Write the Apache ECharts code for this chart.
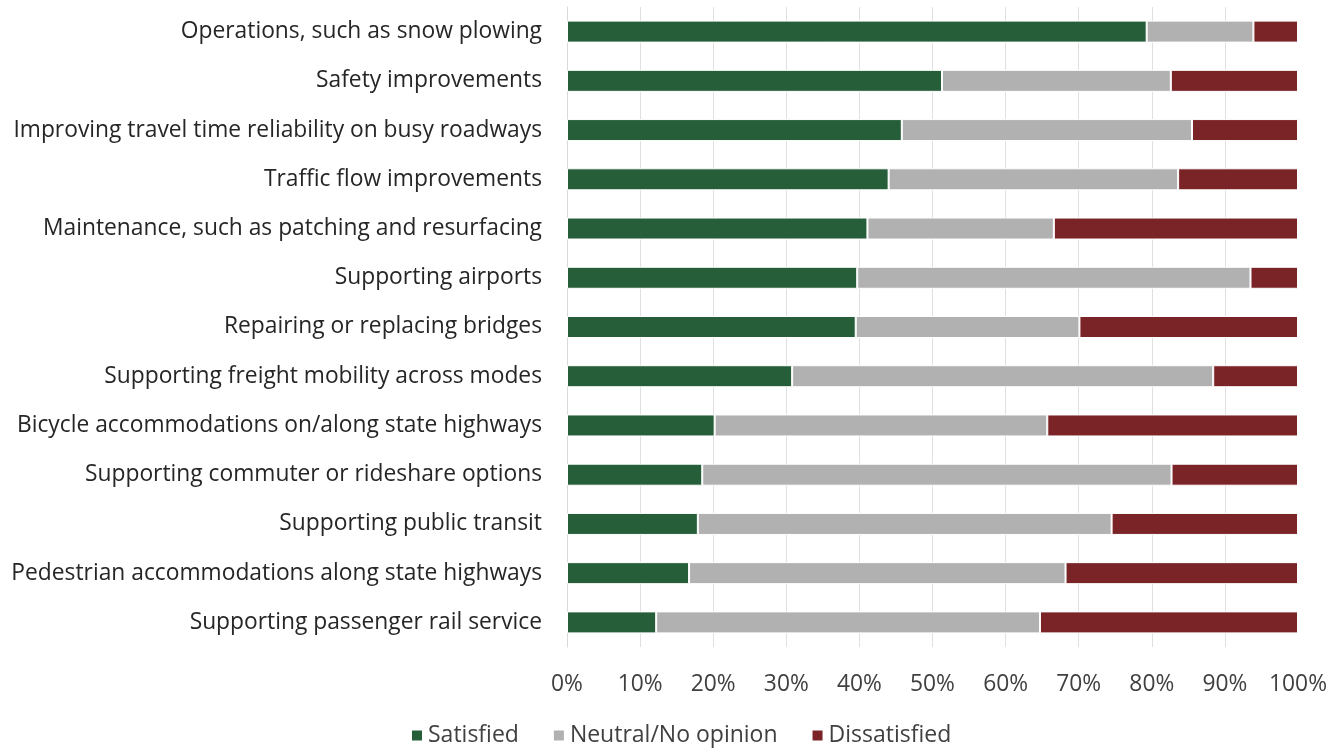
<!DOCTYPE html>
<html><head><meta charset="utf-8">
<script src="https://cdn.jsdelivr.net/npm/echarts@6/dist/echarts.min.js"></script>
<style>html,body{margin:0;padding:0;background:#fff}#c{width:1330px;height:750px}</style>
</head><body><div id="c"></div>
<script>
const categories = [
  "Operations, such as snow plowing",
  "Safety improvements",
  "Improving travel time reliability on busy roadways",
  "Traffic flow improvements",
  "Maintenance, such as patching and resurfacing",
  "Supporting airports",
  "Repairing or replacing bridges",
  "Supporting freight mobility across modes",
  "Bicycle accommodations on/along state highways",
  "Supporting commuter or rideshare options",
  "Supporting public transit",
  "Pedestrian accommodations along state highways",
  "Supporting passenger rail service"
];
const satisfied = [79.3, 51.3, 45.8, 44.0, 41.1, 39.7, 39.5, 30.8, 20.2, 18.5, 17.9, 16.7, 12.2];
const neutral   = [14.6, 31.3, 39.7, 39.6, 25.5, 53.8, 30.6, 57.6, 45.5, 64.2, 56.6, 51.5, 52.5];
const dissatisfied = [6.1, 17.4, 14.5, 16.4, 33.4, 6.5, 29.9, 11.6, 34.3, 17.3, 25.5, 31.8, 35.3];
const xTicks = ["0%","10%","20%","30%","40%","50%","60%","70%","80%","90%","100%"];

const font = "'Open Sans', 'Noto Sans', sans-serif";
const chart = echarts.init(document.getElementById('c'));
const mk = (name, data, color) => ({
  name, type: 'bar', stack: 'total', data, barWidth: 22,
  itemStyle: { color, borderColor: '#ffffff', borderWidth: 1 },
  emphasis: { disabled: true }
});
chart.setOption({
  animation: false,
  textStyle: { fontFamily: font },
  grid: { left: 567, right: 32, top: 7, bottom: 103, containLabel: false },
  legend: {
    left: 405, top: 719, itemWidth: 12, itemHeight: 12, itemGap: 33,
    icon: 'rect',
    textStyle: { fontFamily: font, fontSize: 23, color: '#404040' },
    data: ['Satisfied', 'Neutral/No opinion', 'Dissatisfied']
  },
  xAxis: {
    type: 'value', min: 0, max: 100, interval: 10,
    axisLabel: { formatter: v => xTicks[Math.round(v / 10)], fontSize: 22.8, color: '#404040', margin: 26, fontFamily: font },
    splitLine: { show: true, showMaxLine: false, lineStyle: { color: '#e0e0e3', width: 1 } },
    axisLine: { show: false }, axisTick: { show: false }
  },
  yAxis: {
    type: 'category', data: categories, inverse: true,
    axisLabel: { fontSize: 22.8, color: '#262626', margin: 25, fontFamily: font },
    axisLine: { show: true, lineStyle: { color: '#d9d9d9' } }, axisTick: { show: false }
  },
  series: [
    mk('Satisfied', satisfied, '#265e3a'),
    mk('Neutral/No opinion', neutral, '#b0b1b0'),
    mk('Dissatisfied', dissatisfied, '#7b2428')
  ]
});
</script></body></html>
